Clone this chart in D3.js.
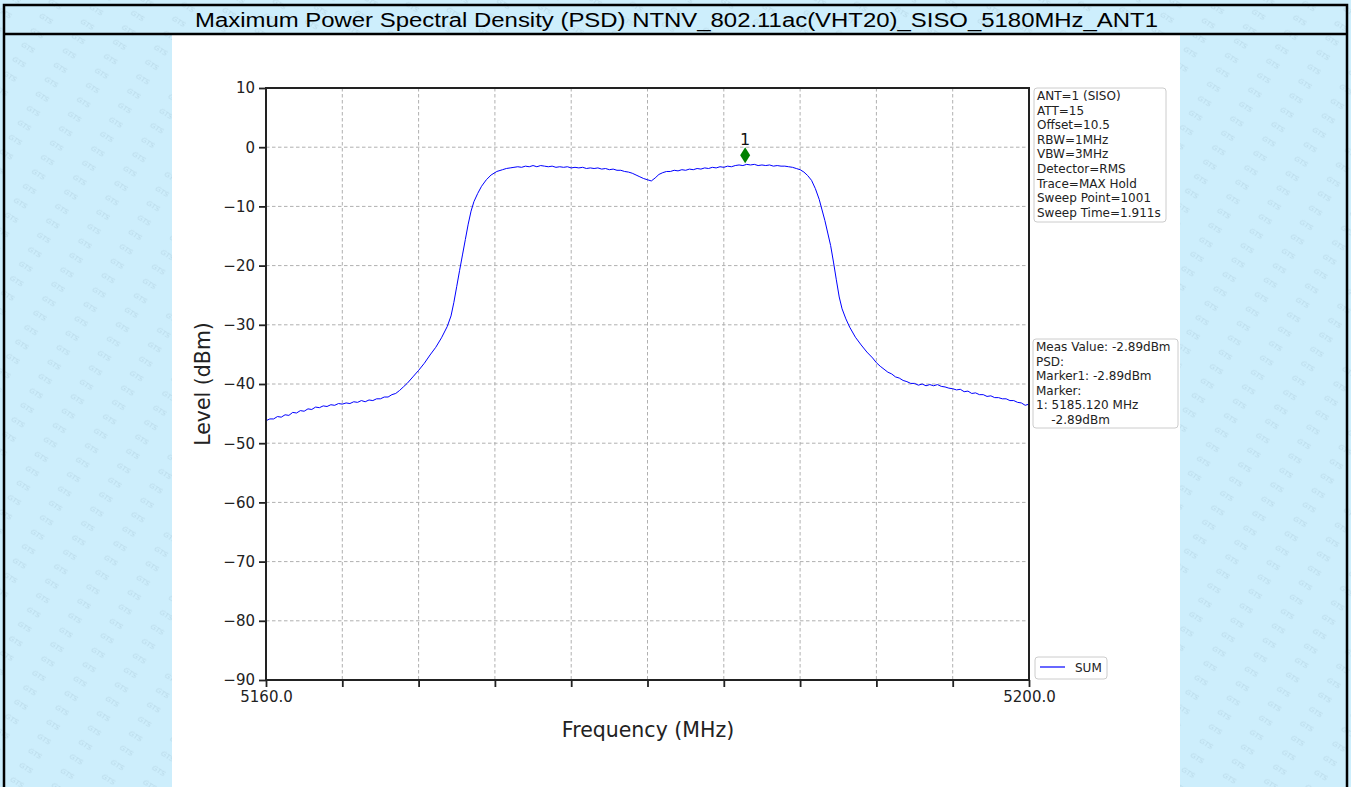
<!DOCTYPE html>
<html><head><meta charset="utf-8">
<script src="https://cdn.jsdelivr.net/npm/d3@7"></script>
<style>html,body{margin:0;padding:0;background:#fff;}svg{display:block;}</style>
</head><body>
<script>
const titleText = "Maximum Power Spectral Density (PSD) NTNV_802.11ac(VHT20)_SISO_5180MHz_ANT1";
const freqs = [5160.0,5160.2,5160.4,5160.6,5160.8,5161.0,5161.2,5161.4,5161.6,5161.8,5162.0,5162.2,5162.4,5162.6,5162.8,5163.0,5163.2,5163.4,5163.6,5163.8,5164.0,5164.2,5164.4,5164.6,5164.8,5165.0,5165.2,5165.4,5165.6,5165.8,5166.0,5166.2,5166.4,5166.6,5166.8,5167.0,5167.2,5167.4,5167.7,5168.0,5168.3,5168.6,5168.9,5169.2,5169.5,5169.7,5169.85,5170.0,5170.15,5170.3,5170.45,5170.6,5170.75,5170.9,5171.1,5171.3,5171.55,5171.8,5172.1,5172.4,
  5172.6,5172.8,5173.0,5173.2,5173.4,5173.6,5173.8,5174.0,5174.2,5174.4,5174.6,5174.8,5175.0,5175.2,5175.4,5175.6,5175.8,5176.0,5176.2,5176.4,5176.6,5176.8,5177.0,5177.2,5177.4,5177.6,5177.8,5178.0,5178.2,5178.4,5178.6,5178.8,5179.0,5179.2,5179.4,5179.6,5179.8,5180.0,5180.2,5180.4,5180.6,5180.8,5181.0,5181.2,5181.4,5181.6,5181.8,5182.0,5182.2,5182.4,5182.6,5182.8,5183.0,5183.2,5183.4,5183.6,5183.8,5184.0,5184.2,5184.4,5184.6,5184.8,5185.0,5185.2,5185.4,5185.6,5185.8,5186.0,5186.2,5186.4,5186.6,5186.8,5187.0,5187.2,5187.4,5187.6,5187.8,5188.0,5188.2,5188.4,5188.6,5188.8,5189.0,5189.15,5189.3,5189.45,5189.6,5189.75,5189.9,5190.05,5190.2,5190.4,5190.6,5190.9,5191.2,5191.5,5191.8,5192.0,5192.2,5192.4,5192.6,5192.8,5193.0,5193.2,5193.4,5193.6,5193.8,5194.0,5194.2,5194.4,5194.6,5194.8,5195.0,5195.2,5195.4,5195.6,5195.8,5196.0,5196.2,5196.4,5196.6,5196.8,5197.0,5197.2,5197.4,5197.6,5197.8,5198.0,5198.2,5198.4,5198.6,5198.8,5199.0,5199.2,5199.4,5199.6,5199.8,5200.0];
const levels = [-46.2,-45.9,-45.9,-45.5,-45.6,-45.2,-45.3,-44.8,-44.9,-44.5,-44.6,-44.2,-44.3,-43.9,-44.0,-43.7,-43.8,-43.5,-43.6,-43.3,-43.4,-43.2,-43.3,-43.0,-43.1,-42.8,-43.0,-42.7,-42.8,-42.5,-42.5,-42.2,-42.2,-41.8,-41.6,-41.1,-40.5,-39.9,-38.8,-37.7,-36.5,-35.1,-33.8,-32.2,-30.3,-28.5,-26.2,-23.5,-20.8,-18.2,-15.6,-13.0,-10.8,-9.2,-7.8,-6.6,-5.5,-4.7,-4.1,-3.8,
  -3.6,-3.5,-3.4,-3.3,-3.4,-3.2,-3.3,-3.1,-3.3,-3.1,-3.2,-3.3,-3.2,-3.4,-3.3,-3.4,-3.3,-3.5,-3.4,-3.5,-3.4,-3.6,-3.5,-3.6,-3.5,-3.7,-3.6,-3.8,-3.7,-3.9,-3.9,-4.1,-4.2,-4.4,-4.7,-5.0,-5.3,-5.5,-5.7,-5.2,-4.6,-4.3,-4.1,-4.1,-3.9,-4.0,-3.8,-3.9,-3.7,-3.8,-3.6,-3.7,-3.5,-3.6,-3.4,-3.5,-3.3,-3.4,-3.2,-3.3,-3.1,-3.0,-3.1,-2.9,-3.0,-2.9,-3.1,-3.0,-3.1,-3.0,-3.2,-3.1,-3.2,-3.2,-3.3,-3.4,-3.6,-3.8,-4.2,-4.8,-5.6,-7.0,-8.8,-10.6,-12.4,-14.5,-16.6,-19.4,-22.4,-25.3,-27.3,-29.0,-30.4,-32.1,-33.4,-34.6,-35.6,-36.4,-37.0,-37.5,-38.0,-38.3,-38.8,-39.0,-39.4,-39.6,-39.9,-39.9,-40.2,-40.0,-40.3,-40.1,-40.3,-40.1,-40.4,-40.5,-40.7,-40.8,-41.0,-40.9,-41.3,-41.2,-41.6,-41.5,-41.8,-41.8,-42.1,-42.0,-42.3,-42.3,-42.5,-42.5,-42.8,-42.8,-43.1,-43.2,-43.6,-43.4];
const xDomain = [5160, 5200];
const yDomain = [-90, 10];
const xTicks = [5160,5164,5168,5172,5176,5180,5184,5188,5192,5196,5200];
const xTickLabels = ["5160.0","","","","","","","","","","5200.0"];
const yTicks = [10,0,-10,-20,-30,-40,-50,-60,-70,-80,-90];
const markerFreq = [5185.12];
const markerLevel = [-2.89];
const markerNames = ["1"];
const settingsLines = ["ANT=1 (SISO)","ATT=15","Offset=10.5","RBW=1MHz","VBW=3MHz","Detector=RMS","Trace=MAX Hold","Sweep Point=1001","Sweep Time=1.911s"];
const measLines = ["Meas Value: -2.89dBm","PSD:","Marker1: -2.89dBm","Marker:","1: 5185.120 MHz","    -2.89dBm"];
const seriesNames = ["SUM"];

const W = 1351, H = 787;
const svg = d3.select("body").append("svg").attr("width", W).attr("height", H);
const defs = svg.append("defs");
const pat = defs.append("pattern").attr("id","wm").attr("patternUnits","userSpaceOnUse")
  .attr("width",38).attr("height",17).attr("patternTransform","rotate(32)");
pat.append("rect").attr("width",38).attr("height",17).attr("fill","#cdeefc");
pat.append("text").attr("x",4).attr("y",11).text("GTS")
  .attr("font-family","DejaVu Sans").attr("font-size",7).attr("font-style","italic")
  .attr("fill","#b9d9e8");

svg.append("rect").attr("width",W).attr("height",H).attr("fill","url(#wm)");
svg.append("rect").attr("x",172).attr("y",35).attr("width",1008).attr("height",H-35).attr("fill","#fff");
svg.append("rect").attr("x",4).attr("y",5).attr("width",1343).attr("height",H+10)
  .attr("fill","none").attr("stroke","#000").attr("stroke-width",2.5);
svg.append("line").attr("x1",4).attr("x2",1347).attr("y1",34).attr("y2",34).attr("stroke","#000").attr("stroke-width",2.5);
svg.append("text").attr("x",195).attr("y",27)
  .attr("textLength",963).attr("lengthAdjust","spacingAndGlyphs")
  .attr("font-family","Liberation Sans, Arial").attr("font-size",19.5).attr("fill","#000").text(titleText);

const L = 266, R = 1029, T = 88, B = 680;
const x = d3.scaleLinear(xDomain, [L, R]);
const y = d3.scaleLinear(yDomain, [B, T]);

const g = svg.append("g");
g.selectAll(".vg").data(xTicks.slice(1,-1)).join("line")
  .attr("x1",d=>x(d)).attr("x2",d=>x(d)).attr("y1",T).attr("y2",B)
  .attr("stroke","#b0b0b0").attr("stroke-width",1).attr("stroke-dasharray","3.5,2.5");
g.selectAll(".hg").data(yTicks.slice(1,-1)).join("line")
  .attr("x1",L).attr("x2",R).attr("y1",d=>y(d)).attr("y2",d=>y(d))
  .attr("stroke","#b0b0b0").attr("stroke-width",1).attr("stroke-dasharray","3.5,2.5");

const pts = freqs.map((f,i)=>[f, levels[i]]);
svg.append("path").datum(pts).attr("fill","none").attr("stroke","#0000ff").attr("stroke-width",1)
  .attr("d", d3.line().x(d=>x(d[0])).y(d=>y(d[1])));

const xAxis = d3.axisBottom(x).tickValues(xTicks).tickFormat((d,i)=>xTickLabels[i]).tickSize(7).tickPadding(4);
const yAxis = d3.axisLeft(y).tickValues(yTicks).tickFormat(d3.format("d")).tickSize(7).tickPadding(4);
const gx = svg.append("g").attr("transform",`translate(0,${B})`).call(xAxis);
const gy = svg.append("g").attr("transform",`translate(${L},0)`).call(yAxis);
[gx,gy].forEach(a=>{
  a.select(".domain").remove();
  a.selectAll(".tick line").attr("stroke","#222").attr("stroke-width",1.8);
  a.selectAll(".tick text").attr("font-family","DejaVu Sans").attr("font-size",15).attr("fill","#222");
});
svg.append("rect").attr("x",L).attr("y",T).attr("width",R-L).attr("height",B-T)
  .attr("fill","none").attr("stroke","#222").attr("stroke-width",2);

svg.append("text").attr("x",648).attr("y",737).attr("text-anchor","middle")
  .attr("font-family","DejaVu Sans").attr("font-size",20.5).attr("fill","#222").text("Frequency (MHz)");
svg.append("text").attr("transform","translate(210,384) rotate(-90)").attr("text-anchor","middle")
  .attr("font-family","DejaVu Sans").attr("font-size",20.5).attr("fill","#222").text("Level (dBm)");

const mk = svg.append("g");
markerFreq.forEach((f,i)=>{
  const mx = x(f), my = y(markerLevel[i]) - 9;
  mk.append("path").attr("d",`M${mx},${my-8}L${mx+5},${my}L${mx},${my+8}L${mx-5},${my}Z`).attr("fill","#008000");
  mk.append("text").attr("x",mx).attr("y",my-10).attr("text-anchor","middle")
    .attr("font-family","DejaVu Sans").attr("font-size",16).attr("fill","#111").text(markerNames[i]);
});

function box(x0,y0,w,h,lines){
  svg.append("rect").attr("x",x0).attr("y",y0).attr("width",w).attr("height",h).attr("rx",3)
    .attr("fill","#fff").attr("stroke","#cccccc").attr("stroke-width",1);
  svg.append("g").selectAll("text").data(lines).join("text")
    .attr("x",x0+3).attr("y",(d,i)=>y0+12+i*14.6).attr("xml:space","preserve")
    .style("white-space","pre")
    .attr("font-family","DejaVu Sans").attr("font-size",12).attr("fill","#222").text(d=>d);
}
box(1034,88,132,134,settingsLines);
box(1033,339,145,89,measLines);
svg.append("rect").attr("x",1035).attr("y",657).attr("width",72).attr("height",22).attr("rx",3)
  .attr("fill","#fff").attr("stroke","#cccccc");
svg.append("line").attr("x1",1040).attr("x2",1065).attr("y1",667).attr("y2",667).attr("stroke","#0000ff").attr("stroke-width",1.2);
svg.append("text").attr("x",1075).attr("y",672).attr("font-family","DejaVu Sans").attr("font-size",12).attr("fill","#222").text(seriesNames[0]);
</script>
</body></html>
